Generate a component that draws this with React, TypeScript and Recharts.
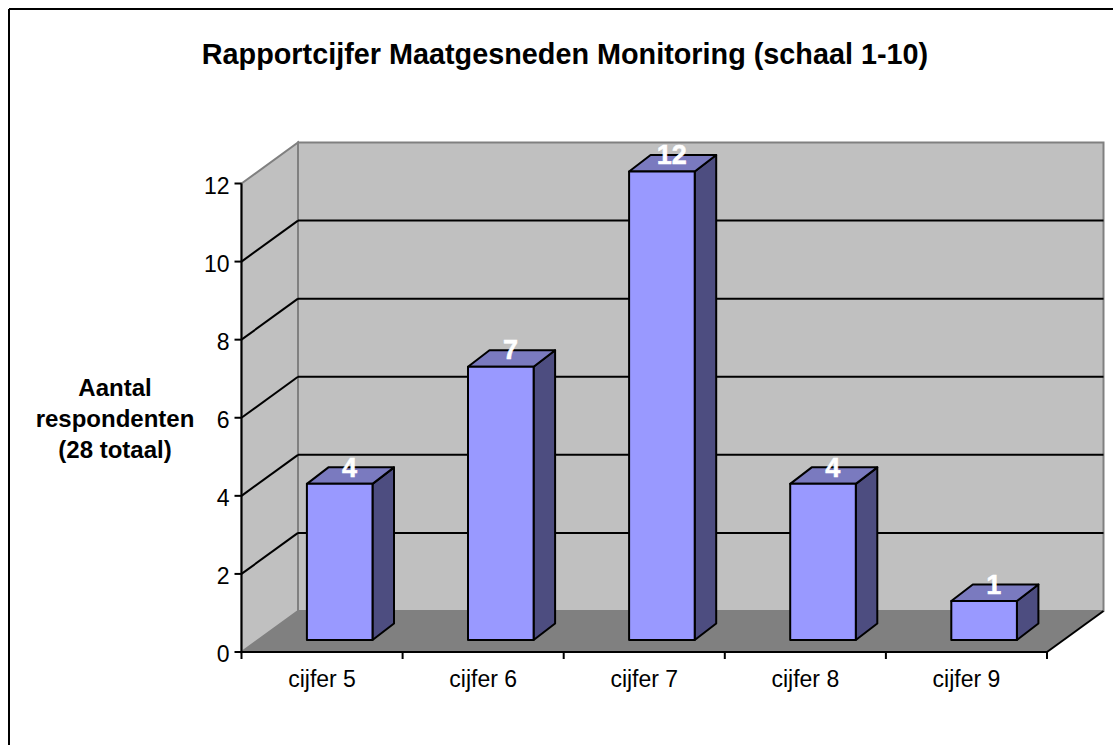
import { Bar, BarChart, CartesianGrid, LabelList, XAxis, YAxis } from 'recharts';

const categories = ['cijfer 5', 'cijfer 6', 'cijfer 7', 'cijfer 8', 'cijfer 9'];
const respondents = [4, 7, 12, 4, 1];
const yTicks = [0, 2, 4, 6, 8, 10, 12];

const data = categories.map((name, i) => ({ name, value: respondents[i] }));

const WIDTH = 1113;
const HEIGHT = 745;
const left = 241.5;
const right = 1047;
const top = 183.5;
const bottom = 652;
// depth of the 3d box behind the axes, and of a single bar
const depthX = 56.5;
const depthY = 41;
const barDepthX = 21.5;
const barDepthY = 16.5;
const barShiftX = 17.4;
const barShiftY = 12;
const band = (right - left) / categories.length;
const font = '"Liberation Sans", Arial, sans-serif';

const pts = (list: number[][]) => list.map((p) => p.join(',')).join(' ');

function Bar3D({ x, y, width, height }: any) {
  const x0 = x + barShiftX;
  const x1 = x0 + width;
  const y0 = y - barShiftY;
  const y1 = y0 + height;
  const stroke = { stroke: '#000', strokeWidth: 2, strokeLinejoin: 'round' as const };
  return (
    <g>
      <polygon
        points={pts([[x1, y0], [x1 + barDepthX, y0 - barDepthY], [x1 + barDepthX, y1 - barDepthY], [x1, y1]])}
        fill="#4D4D80"
        {...stroke}
      />
      <polygon
        points={pts([[x0, y0], [x0 + barDepthX, y0 - barDepthY], [x1 + barDepthX, y0 - barDepthY], [x1, y0]])}
        fill="#7A7ABF"
        {...stroke}
      />
      <rect x={x0} y={y0} width={width} height={height} fill="#9999FF" {...stroke} />
    </g>
  );
}

function BarValue({ x, y, width, value }: any) {
  return (
    <text
      x={x + barShiftX + width / 2 + barDepthX / 2 - 1}
      y={y - barShiftY - barDepthY / 2 + 1}
      textAnchor="middle"
      fontFamily={font}
      fontWeight="bold"
      fontSize={27}
      fill="#fff"
      stroke="#fff"
      strokeWidth={0.5}
    >
      {value}
    </text>
  );
}

function CategoryTick({ x, payload, index }: any) {
  const edge = x - band / 2;
  return (
    <g>
      <line x1={edge} y1={bottom} x2={edge} y2={bottom + 7} stroke="#000" strokeWidth={2} />
      {index === categories.length - 1 && (
        <line x1={edge + band} y1={bottom} x2={edge + band} y2={bottom + 7} stroke="#000" strokeWidth={2} />
      )}
      <text x={x} y={bottom + 35} textAnchor="middle" fontFamily={font} fontSize={23} fill="#000">
        {payload.value}
      </text>
    </g>
  );
}

function GridLine({ x1, y1, x2 }: any) {
  return (
    <g>
      <line x1={x1} y1={y1} x2={x1 + depthX} y2={y1 - depthY} stroke="#000" strokeWidth={2} />
      <line x1={x1 + depthX} y1={y1 - depthY} x2={x2 + depthX} y2={y1 - depthY} stroke="#000" strokeWidth={2} />
    </g>
  );
}

function Walls() {
  const edge = { stroke: '#808080', strokeWidth: 2 };
  return (
    <g>
      <polygon points={pts([[left + depthX, top - depthY], [right + depthX, top - depthY], [right + depthX, bottom - depthY], [left + depthX, bottom - depthY]])} fill="#C0C0C0" {...edge} />
      <polygon points={pts([[left, top], [left + depthX, top - depthY], [left + depthX, bottom - depthY], [left, bottom]])} fill="#C0C0C0" {...edge} />
      <polygon points={pts([[left, bottom], [left + depthX, bottom - depthY], [right + depthX, bottom - depthY], [right, bottom]])} fill="#808080" />
      <line x1={right} y1={bottom} x2={right + depthX} y2={bottom - depthY} stroke="#000" strokeWidth={2} />
    </g>
  );
}

function ChartText() {
  return (
    <g fontFamily={font} fontWeight="bold" fill="#000" textAnchor="middle">
      <text x={565} y={64} fontSize={28.8}>
        Rapportcijfer Maatgesneden Monitoring (schaal 1-10)
      </text>
      <text fontSize={24}>
        <tspan x={115} y={396}>Aantal</tspan>
        <tspan x={115} y={427}>respondenten</tspan>
        <tspan x={115} y={458}>(28 totaal)</tspan>
      </text>
    </g>
  );
}

export default function App() {
  return (
    <div style={{ position: 'absolute', left: 0, top: 0, width: WIDTH, height: HEIGHT, background: '#fff' }}>
      <svg width={WIDTH} height={HEIGHT} style={{ position: 'absolute', left: 0, top: 0 }}>
        <line x1={9} y1={9} x2={WIDTH} y2={9} stroke="#000" strokeWidth={2} />
        <line x1={9} y1={9} x2={9} y2={HEIGHT} stroke="#000" strokeWidth={2} />
        <Walls />
      </svg>
      <div style={{ position: 'absolute', left: 0, top: 0 }}>
        <BarChart
          width={WIDTH}
          height={HEIGHT}
          data={data}
          margin={{ top, right: WIDTH - right, bottom: 0, left: 0 }}
        >
          <CartesianGrid
            vertical={false}
            horizontalValues={yTicks.slice(1, -1)}
            horizontal={(props: any) => <GridLine key={props.key} {...props} />}
          />
          <XAxis
            dataKey="name"
            tick={<CategoryTick />}
            tickLine={false}
            axisLine={{ stroke: '#000', strokeWidth: 2 }}
            height={HEIGHT - bottom}
            interval={0}
          />
          <YAxis
            width={left}
            domain={[0, 12]}
            ticks={yTicks}
            interval={0}
            tickSize={7}
            tickMargin={5}
            axisLine={{ stroke: '#000', strokeWidth: 2 }}
            tickLine={{ stroke: '#000', strokeWidth: 2 }}
            tick={{ fill: '#000', fontSize: 23, fontFamily: font, dy: 2 }}
          />
          <Bar dataKey="value" barSize={65.6} shape={<Bar3D />} isAnimationActive={false}>
            <LabelList dataKey="value" content={<BarValue />} />
          </Bar>
          <ChartText />
        </BarChart>
      </div>
    </div>
  );
}
